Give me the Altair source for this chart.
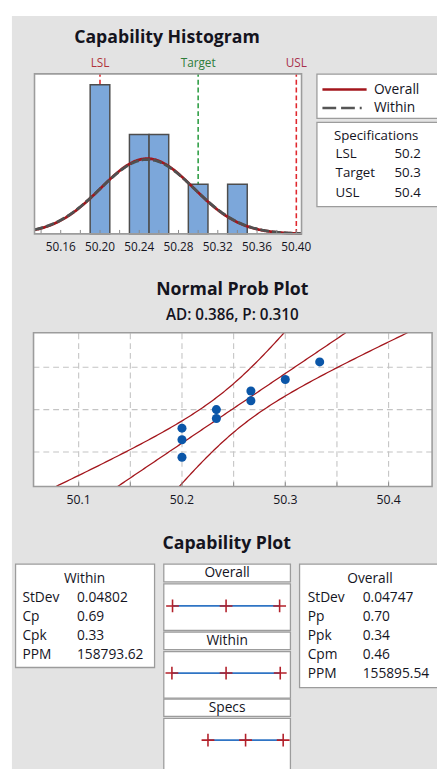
import altair as alt
import numpy as np
import pandas as pd
from statistics import NormalDist

# ---------------- data ----------------
measurements = [50.2, 50.2, 50.2, 50.2333, 50.2333, 50.2667, 50.2667, 50.3, 50.3333]
spec_names = ["LSL", "Target", "USL"]
spec_values = [50.2, 50.3, 50.4]
spec_label_colors = ["#b0343a", "#2e7d3a", "#a8304c"]
spec_line_colors = ["#e0282e", "#2e9e44", "#e0282e"]
sd_overall = 0.04747
sd_within = 0.04802
bin_width = 0.02
hist_label_ticks = [50.16, 50.20, 50.24, 50.28, 50.32, 50.36, 50.40]
hist_minor_ticks = [50.14, 50.16, 50.18, 50.20, 50.22, 50.24, 50.26, 50.28, 50.30,
                    50.32, 50.34, 50.36, 50.38, 50.40]
prob_label_ticks = [50.1, 50.2, 50.3, 50.4]
prob_grid_x = [50.1, 50.15, 50.2, 50.25, 50.3, 50.35, 50.4]
prob_grid_p = [0.1, 0.5, 0.9]
ad_text = "AD: 0.386, P: 0.310"
within_labels = ["StDev", "Cp", "Cpk", "PPM"]
within_values = ["0.04802", "0.69", "0.33", "158793.62"]
overall_labels = ["StDev", "Pp", "Ppk", "Cpm", "PPM"]
overall_values = ["0.04747", "0.70", "0.34", "0.46", "155895.54"]
cap_rows = ["Overall", "Within", "Specs"]

# ---------------- derived ----------------
n = len(measurements)
mean = float(np.mean(measurements))

W, H = 437, 761
FONT = "Open Sans"
BG = "#e3e3e3"
FRAME = "#9c9c9c"
DARK = "#14141e"
RED = "#a3161c"


def qs(domain, rng):
    return alt.Scale(domain=domain, range=rng, nice=False, zero=False)


one = pd.DataFrame({"a": [0]})


def box(x0, x1, y0, y1, fill="white", stroke=FRAME, sw=1.3):
    return alt.Chart(one).mark_rect(fill=fill, stroke=stroke, strokeWidth=sw).encode(
        x=alt.value(x0), x2=alt.value(x1), y=alt.value(y0), y2=alt.value(y1))


def label(text, x, y, size=14, weight="normal", align="left", color=DARK):
    return alt.Chart(pd.DataFrame({"t": [text]})).mark_text(
        align=align, baseline="middle", font=FONT, fontSize=size,
        fontWeight=weight, color=color).encode(x=alt.value(x), y=alt.value(y), text="t:N")


layers = []
layers.append(box(4, W + 20, 1, H + 20, fill=BG, stroke=None, sw=0))

# ================= Capability Histogram =================
HX = [50.1333, 50.4053]
HXR = [27, 299]
HY = [0, 3.217]
HYR = [223, 60]


def hx(f):
    return alt.X(f, type="quantitative", scale=qs(HX, HXR), axis=None)


def hy(f):
    return alt.Y(f, type="quantitative", scale=qs(HY, HYR), axis=None)


layers.append(label("Capability Histogram", 162, 23.7, size=18, weight="bold", align="center"))

frame_h = pd.DataFrame({"x0": [HX[0]], "x1": [HX[1]], "y0": [HY[0]], "y1": [HY[1]]})
layers.append(alt.Chart(frame_h).mark_rect(fill="white").encode(
    x=hx("x0"), x2="x1", y=hy("y0"), y2="y1"))

spec_df = pd.DataFrame({"name": spec_names, "value": spec_values,
                        "lc": spec_line_colors, "tc": spec_label_colors,
                        "ylo": HY[0], "yhi": HY[1]})
layers.append(alt.Chart(spec_df).mark_rule(strokeDash=[5, 3], strokeWidth=1.6).encode(
    x=hx("value"), y=hy("ylo"), y2="yhi", color=alt.Color("lc:N", scale=None)))

edges = np.round(np.arange(50.13, 50.4101, bin_width), 4)
counts, _ = np.histogram(measurements, bins=edges)
bars = pd.DataFrame({"start": edges[:-1], "end": edges[1:], "count": counts})
bars = bars[bars["count"] > 0].assign(zero=0)
layers.append(alt.Chart(bars).mark_rect(fill="#7ca7da", stroke="#4d4d4d", strokeWidth=1.5).encode(
    x=hx("start"), x2="end", y=hy("count"), y2="zero"))

grid = np.linspace(HX[0], HX[1], 300)
curve = pd.DataFrame({
    "x": grid,
    "overall": [n * bin_width * NormalDist(mean, sd_overall).pdf(v) for v in grid],
    "within": [n * bin_width * NormalDist(mean, sd_within).pdf(v) for v in grid],
})
layers.append(alt.Chart(curve).mark_line(color=RED, strokeWidth=2.8).encode(
    x=hx("x"), y=hy("overall")))
layers.append(alt.Chart(curve).mark_line(color="#505050", strokeWidth=2.8, strokeDash=[9, 3]).encode(
    x=hx("x"), y=hy("within")))

layers.append(alt.Chart(pd.DataFrame({"t": hist_minor_ticks})).mark_rule(color="#8a8a8a").encode(
    x=hx("t"), y=alt.value(223), y2=alt.value(219)))
layers.append(alt.Chart(frame_h).mark_rect(fill=None, stroke=FRAME, strokeWidth=1.6).encode(
    x=hx("x0"), x2="x1", y=hy("y0"), y2="y1"))
layers.append(alt.Chart(pd.DataFrame({"t": hist_label_ticks,
                                      "lab": [f"{v:.2f}" for v in hist_label_ticks]})).mark_text(
    align="center", baseline="middle", font=FONT, fontSize=12, color=DARK).encode(
    x=hx("t"), y=alt.value(236.3), text="lab:N"))
layers.append(alt.Chart(spec_df).mark_text(
    align="center", baseline="middle", font=FONT, fontSize=12).encode(
    x=hx("value"), y=alt.value(48.7), text="name:N", color=alt.Color("tc:N", scale=None)))

# legend boxes
layers.append(box(314.7, W + 20, 60.3, 105.3))
layers.append(alt.Chart(one).mark_rule(color=RED, strokeWidth=2.6).encode(
    x=alt.value(320.3), x2=alt.value(365.3), y=alt.value(76)))
layers.append(alt.Chart(one).mark_rule(color="#555555", strokeWidth=2.6, strokeDash=[14, 5, 14, 5, 2, 5]).encode(
    x=alt.value(320.3), x2=alt.value(365.3), y=alt.value(94.7)))
layers.append(label("Overall", 372.7, 76))
layers.append(label("Within", 372.7, 94.7))
layers.append(box(314.7, W + 20, 109.3, 195.3))
layers.append(label("Specifications", 332, 123, size=13.5))
spec_tab = pd.DataFrame({"name": spec_names, "val": [f"{v:.1f}" for v in spec_values],
                         "row": [0, 1, 2]})
ys_spec = alt.Y("row:Q", scale=qs([0, 2], [142, 181]), axis=None)
layers.append(alt.Chart(spec_tab).mark_text(align="left", baseline="middle", font=FONT,
                                            fontSize=13.5, color=DARK).encode(
    x=alt.value(333.7), y=ys_spec, text="name:N"))
layers.append(alt.Chart(spec_tab).mark_text(align="left", baseline="middle", font=FONT,
                                            fontSize=13.5, color=DARK).encode(
    x=alt.value(393.7), y=ys_spec, text="val:N"))

# ================= Normal Prob Plot =================
PX = [50.0563, 50.4421]
PXR = [26, 432]
ZMAX = NormalDist().inv_cdf(0.99)
PY = [-ZMAX, ZMAX]
PYR = [480.3, 323.7]


def px(f):
    return alt.X(f, type="quantitative", scale=qs(PX, PXR), axis=None)


def py(f):
    return alt.Y(f, type="quantitative", scale=qs(PY, PYR), axis=None)


layers.append(label("Normal Prob Plot", 228.5, 280.3, size=18, weight="bold", align="center"))
layers.append(label(ad_text, 228.5, 305.3, size=15.5, weight=600, align="center"))

frame_p = pd.DataFrame({"x0": [PX[0]], "x1": [PX[1]], "y0": [PY[0]], "y1": [PY[1]]})
layers.append(alt.Chart(frame_p).mark_rect(fill="white").encode(
    x=px("x0"), x2="x1", y=py("y0"), y2="y1"))
layers.append(alt.Chart(pd.DataFrame({"g": prob_grid_x, "y0": PY[0], "y1": PY[1]})).mark_rule(
    color="#c4c4c4", strokeDash=[6, 4], strokeWidth=1.1).encode(x=px("g"), y=py("y0"), y2="y1"))
layers.append(alt.Chart(pd.DataFrame({"z": [NormalDist().inv_cdf(p) for p in prob_grid_p],
                                      "x0": PX[0], "x1": PX[1]})).mark_rule(
    color="#c4c4c4", strokeDash=[6, 4], strokeWidth=1.1).encode(y=py("z"), x=px("x0"), x2="x1"))

zs = np.linspace(-ZMAX, ZMAX, 120)
half = 1.96 * sd_overall * np.sqrt(1.0 / n + zs ** 2 / (2.0 * n))
fit = pd.DataFrame({"z": zs, "fit": mean + sd_overall * zs,
                    "lo": mean + sd_overall * zs - half, "hi": mean + sd_overall * zs + half})
for col in ["lo", "fit", "hi"]:
    layers.append(alt.Chart(fit).mark_line(color=RED, strokeWidth=1.3).encode(
        x=px(col), y=py("z"), order="z:Q"))

srt = sorted(measurements)
pts = pd.DataFrame({"x": srt,
                    "z": [NormalDist().inv_cdf((i + 1 - 0.3) / (n + 0.4)) for i in range(n)]})
layers.append(alt.Chart(pts).mark_circle(size=85, opacity=1, color="#0b56a8").encode(
    x=px("x"), y=py("z")))

layers.append(alt.Chart(pd.DataFrame({"t": prob_grid_x})).mark_rule(color="#8a8a8a").encode(
    x=px("t"), y=alt.value(480.3), y2=alt.value(476)))
layers.append(alt.Chart(frame_p).mark_rect(fill=None, stroke=FRAME, strokeWidth=1.6).encode(
    x=px("x0"), x2="x1", y=py("y0"), y2="y1"))
layers.append(alt.Chart(pd.DataFrame({"t": prob_label_ticks,
                                      "lab": [f"{v:.1f}" for v in prob_label_ticks]})).mark_text(
    align="center", baseline="middle", font=FONT, fontSize=12.5, color=DARK).encode(
    x=px("t"), y=alt.value(494.3), text="lab:N"))

# ================= Capability Plot =================
layers.append(label("Capability Plot", 222.8, 538.7, size=18, weight="bold", align="center"))

# within table
layers.append(box(7.7, 149.3, 559.3, 664.7))
layers.append(label("Within", 78, 574.7, size=14, align="center"))
ROWY = qs([0, 4], [593.7, 671])
wt = pd.DataFrame({"lab": within_labels, "val": within_values, "row": range(len(within_labels))})
for fld, xx in [("lab", 14.7), ("val", 70.3)]:
    layers.append(alt.Chart(wt).mark_text(align="left", baseline="middle", font=FONT,
                                          fontSize=14, color=DARK).encode(
        x=alt.value(xx), y=alt.Y("row:Q", scale=ROWY, axis=None), text=f"{fld}:N"))

# overall table
layers.append(box(297, W + 20, 559.3, 685.3))
layers.append(label("Overall", 368.7, 574.7, size=14, align="center"))
ot = pd.DataFrame({"lab": overall_labels, "val": overall_values, "row": range(len(overall_labels))})
for fld, xx in [("lab", 305.3), ("val", 361.3)]:
    layers.append(alt.Chart(ot).mark_text(align="left", baseline="middle", font=FONT,
                                          fontSize=14, color=DARK).encode(
        x=alt.value(xx), y=alt.Y("row:Q", scale=ROWY, axis=None), text=f"{fld}:N"))

# middle column boxes
MX0, MX1 = 158.7, 287.7
heads = [(559.3, 577.5, 568.5), (628.7, 646.5, 637.8), (697.0, 714.5, 706.0)]
bodies = [(579.5, 627.0), (648.5, 696.0), (716.5, H + 20)]
for (h0, h1, hc), (b0, b1), name in zip(heads, bodies, cap_rows):
    layers.append(box(MX0, MX1, h0, h1))
    layers.append(box(MX0, MX1, b0, b1))
    layers.append(label(name, (MX0 + MX1) / 2, hc, size=14, align="center"))

CX = [50.0825, 50.4193]
CXR = [MX0, MX1]
CY = [0, 2]
CYR = [602, 738.7]
cap = pd.DataFrame({
    "row": [0, 1, 2],
    "lo": [mean - 3 * sd_overall, mean - 3 * sd_within, spec_values[0]],
    "mid": [mean, mean, spec_values[1]],
    "hi": [mean + 3 * sd_overall, mean + 3 * sd_within, spec_values[2]],
})
cx = lambda f: alt.X(f, type="quantitative", scale=qs(CX, CXR), axis=None)
cy = alt.Y("row:Q", scale=qs(CY, CYR), axis=None)
layers.append(alt.Chart(cap).mark_rule(color="#2f74c4", strokeWidth=1.8).encode(
    x=cx("lo"), x2="hi", y=cy))
cap_long = cap.melt(id_vars="row", value_vars=["lo", "mid", "hi"], value_name="v")
layers.append(alt.Chart(cap_long).mark_point(shape="M-1,0H1M0,-1V1", size=170, filled=False,
                                             color="#b3202a", strokeWidth=1.6, opacity=1).encode(
    x=cx("v"), y=cy))

chart = alt.layer(*layers).resolve_scale(x="independent", y="independent").properties(
    width=W, height=H, padding=0, autosize=alt.AutoSizeParams(type="none"), background="white"
).configure_view(stroke=None)

chart.save("out.html", embed_options={"renderer": "svg", "actions": False})
